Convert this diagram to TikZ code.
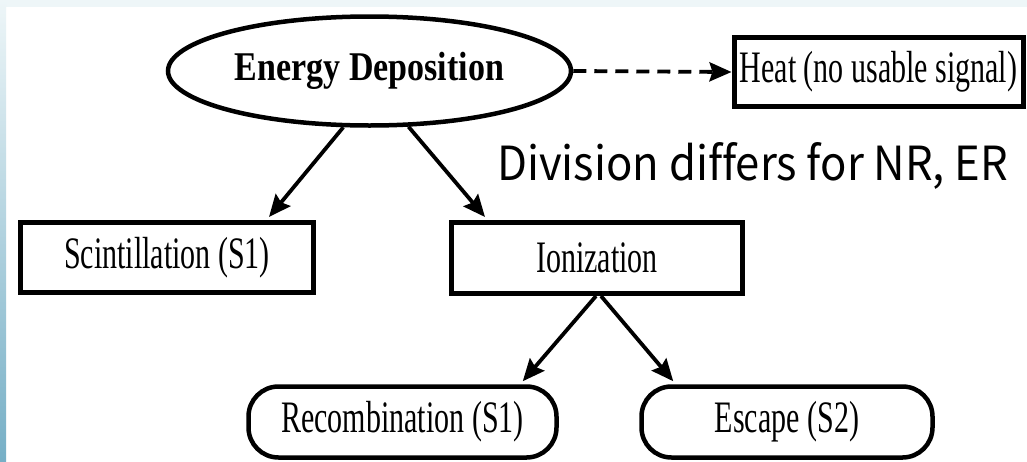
\documentclass[tikz,border=0pt]{standalone}
\usepackage{fontspec}
\usepackage{graphicx}
\setmainfont{Liberation Serif}
\newfontfamily\divfont[Ligatures=NoCommon]{Noto Sans CJK JP}
\usetikzlibrary{shapes.geometric,arrows.meta,calc}
\definecolor{stripTop}{HTML}{EEF6F8}
\definecolor{stripBot}{HTML}{76AFC6}
\newcommand{\regtxt}[1]{\scalebox{1}[1.5]{\fontsize{30}{30}\selectfont #1}}
\begin{document}
\begin{tikzpicture}[x=1pt,y=-1pt,
  boxnode/.style={draw,line width=5pt,rectangle,inner sep=0pt,minimum width=#1,minimum height=70pt},
  roundnode/.style={draw,line width=4.5pt,rectangle,rounded corners=30pt,inner sep=0pt,minimum width=#1,minimum height=71pt},
  arr/.style={line width=3.8pt,-{Stealth[length=22pt,width=19pt,inset=3pt]}}]
\useasboundingbox (0,0) rectangle (1027,461);
\fill[white] (0,0) rectangle (1027,461);
\fill[stripTop] (0,0) rectangle (1027,7);
\shade[top color=stripTop,bottom color=stripBot] (0,0) rectangle (6,461);

\node[draw,ellipse,line width=4.5pt,inner sep=0pt,minimum width=403pt,minimum height=109pt] (ed) at (369.5,71)
  {\scalebox{1}[1.2]{\fontsize{34}{34}\selectfont\bfseries Energy Deposition}};
\node[boxnode=289pt,minimum height=69pt] (heat) at (878.5,72) {\regtxt{Heat (no usable signal)}};
\node[boxnode=293pt] (scint) at (167,257.5) {\regtxt{Scintillation (S1)}};
\node[boxnode=291pt,minimum height=71pt] (ion) at (597,258) {\regtxt{Ionization}};
\node[roundnode=308pt] (rec) at (402.5,422) {\regtxt{Recombination (S1)}};
\node[roundnode=291pt] (esc) at (787,422) {\regtxt{Escape (S2)}};

\draw[arr] (ed.245) -- ($(scint.north east)+(-47,-3)$);
\draw[arr] (ed.305) -- ($(ion.north west)+(36,-3)$);
\draw[arr] ($(ion.south)+(-1,0)$) -- ($(rec.north east)+(-36,-3)$);
\draw[arr] ($(ion.south)+(4,0)$) -- ($(esc.north west)+(34,-3)$);
\draw[arr,dash pattern=on 13pt off 8pt] (ed.east) -- (heat.west);

\node[anchor=base west,inner sep=0pt] (div) at (497,180)
  {\resizebox{511pt}{38pt}{\divfont Division differs for NR, ER}};
\end{tikzpicture}
\end{document}
